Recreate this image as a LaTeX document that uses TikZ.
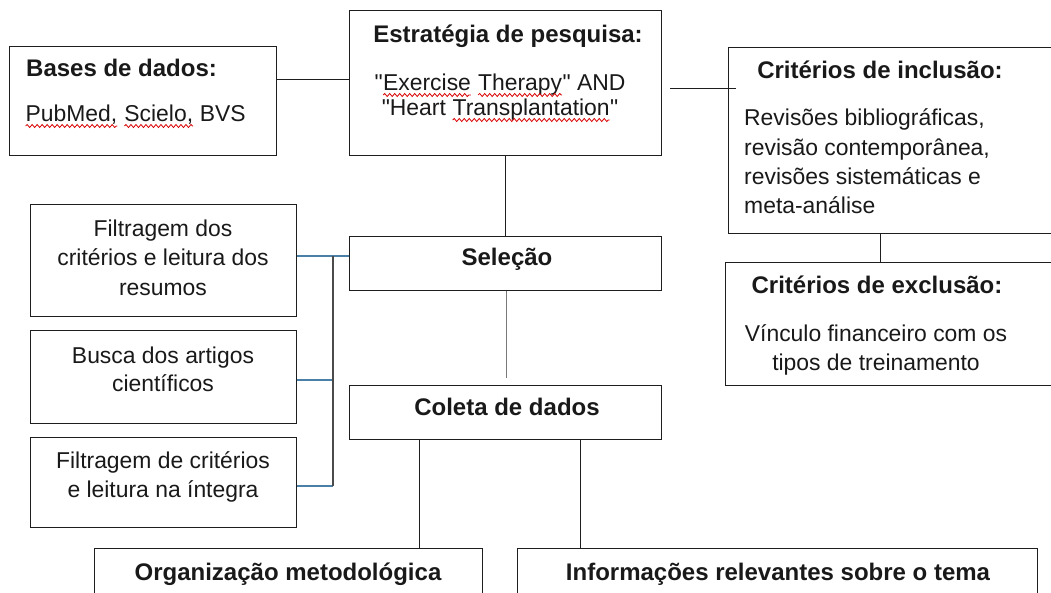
\documentclass[tikz,border=0pt]{standalone}
\usepackage{fontspec}
\setmainfont{Liberation Sans}[Ligatures=TeXOff]
\usetikzlibrary{decorations.pathmorphing}
\definecolor{boxc}{HTML}{1E1E1E}
\definecolor{bluec}{HTML}{4A7FA7}
\definecolor{greyc}{HTML}{7A7A7A}
\newcommand\fs{\fontsize{22.9}{29.5}\selectfont}
\newcommand\fb{\fontsize{24}{29.5}\selectfont\bfseries}
\newcommand\sqw[1]{\tikz[baseline=(w.base),x=1cm,y=1cm]{\node[inner sep=0pt,outer sep=0pt,draw=none,anchor=base,font=\fs](w){#1};\draw[red!85!black,line width=0.8pt,decorate,decoration={snake,amplitude=1.5pt,segment length=5pt}] ([yshift=-4.5pt]w.base west) -- ([yshift=-4.5pt]w.base east);}}
\tikzset{
 box/.style={draw=boxc, line width=1.4pt, inner sep=0pt, anchor=north west},
 tx/.style={inner sep=0pt, anchor=base, font=\fs, text=black!90},
 tl/.style={tx, anchor=base west},
 tb/.style={tx, font=\fb},
 con/.style={line width=1.3pt, draw=boxc},
 bcon/.style={line width=1.3pt, draw=bluec},
 gcon/.style={line width=1.3pt, draw=greyc},
}
\begin{document}
\begin{tikzpicture}[x=1pt,y=-1pt]
\useasboundingbox (0,0) rectangle (1051,592);
% boxes
\node[box, minimum width=267pt, minimum height=109pt] (bases) at (9,46) {};
\node[box, minimum width=312pt, minimum height=145pt] (estr) at (349,10) {};
\node[box, minimum width=340pt, minimum height=186pt] (incl) at (728,47) {};
\node[box, minimum width=343pt, minimum height=123pt] (excl) at (725,262) {};
\node[box, minimum width=312pt, minimum height=54pt] (sel) at (349,236) {};
\node[box, minimum width=312pt, minimum height=54pt] (col) at (349,385) {};
\node[box, minimum width=266pt, minimum height=112pt] (f1) at (30,204) {};
\node[box, minimum width=266pt, minimum height=93pt] (f2) at (30,330) {};
\node[box, minimum width=266pt, minimum height=90pt] (f3) at (30,437) {};
\node[box, minimum width=388pt, minimum height=70pt] (org) at (94,548) {};
\node[box, minimum width=520pt, minimum height=70pt] (inf) at (517,548) {};
% texts
\node[tl, font=\fb] (tb1) at (26,76.5) {Bases de dados:};
\node[tl] (tb2) at (25,121.5) {\sqw{PubMed,} \sqw{Scielo,} BVS};
\node[tb] (te1) at (508,42.5) {Estratégia de pesquisa:};
\node[tx] (te2) at (500,90.5) {"\sqw{Exercise} \sqw{Therapy}" AND};
\node[tx] (te3) at (500,115.5) {"Heart \sqw{Transplantation}"};
\node[tb] (ti1) at (880,78.5) {Critérios de inclusão:};
\node[tl] (ti2) at (744,125.5) {Revisões bibliográficas,};
\node[tl] (ti3) at (744,155.5) {revisão contemporânea,};
\node[tl] (ti4) at (744,184.5) {revisões sistemáticas e};
\node[tl] (ti5) at (744,213.5) {meta-análise};
\node[tb] (tx1) at (877,293.5) {Critérios de exclusão:};
\node[tx] (tx2) at (876,341.5) {Vínculo financeiro com os};
\node[tx] (tx3) at (876,370.5) {tipos de treinamento};
\node[tb] (ts) at (507,265.5) {Seleção};
\node[tb] (tc) at (507,415.5) {Coleta de dados};
\node[tx] (tf1a) at (163,236.5) {Filtragem dos};
\node[tx] (tf1b) at (163,265.5) {critérios e leitura dos};
\node[tx] (tf1c) at (163,295.5) {resumos};
\node[tx] (tf2a) at (163,363.5) {Busca dos artigos};
\node[tx] (tf2b) at (163,391.5) {científicos};
\node[tx] (tf3a) at (163,468.5) {Filtragem de critérios};
\node[tx] (tf3b) at (163,497.5) {e leitura na íntegra};
\node[tb] (to) at (288,580.5) {Organização metodológica};
\node[tb] (tn) at (778,580.5) {Informações relevantes sobre o tema};
% connectors
\draw[con] ([yshift=21.5pt]bases.east) -- ([yshift=21.5pt]bases.east -| estr.west);
\draw[con] ([xshift=8pt,yshift=-5.5pt]estr.east) -- ([xshift=8pt,yshift=-5.5pt]estr.east -| incl.west);
\draw[con] ([xshift=-18pt]incl.south) -- ([xshift=-18pt]incl.south |- excl.north);
\draw[con] (estr.south) -- (sel.north);
\draw[gcon] ([xshift=1pt]sel.south) -- ([xshift=1pt,yshift=7pt]col.north);
\draw[con] ([xshift=-86pt]col.south) -- ([xshift=-86pt]col.south |- org.north);
\draw[con] ([xshift=75pt]col.south) -- ([xshift=75pt]col.south |- inf.north);
\coordinate (jt) at (333,256);
\coordinate (jm) at (333,380);
\coordinate (jb) at (333,486);
\draw[bcon] (f1.east |- jt) -- (sel.west |- jt);
\draw[bcon] (f2.east |- jm) -- (jm);
\draw[bcon] (f3.east |- jb) -- (jb);
\draw[con, draw=boxc!80] (jt) -- (jb);
\end{tikzpicture}
\end{document}
